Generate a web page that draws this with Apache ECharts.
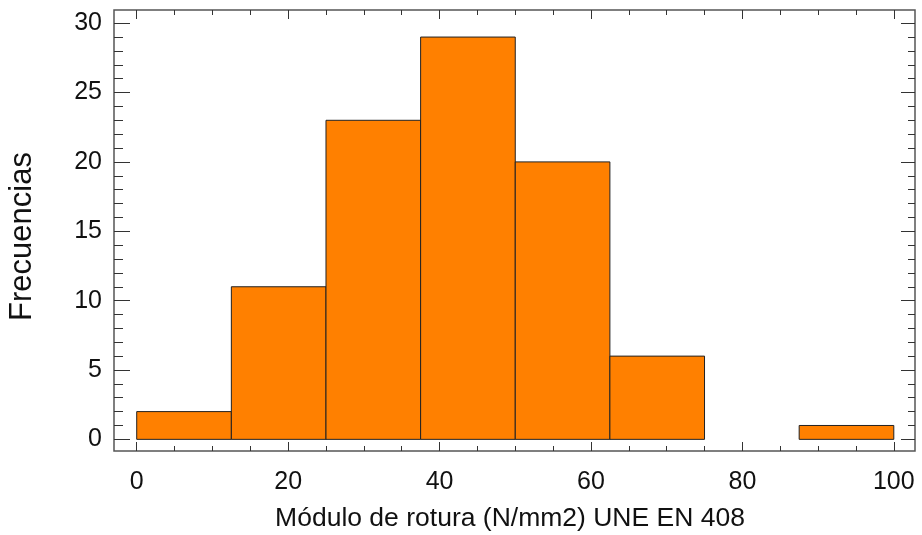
<!DOCTYPE html>
<html>
<head>
<meta charset="utf-8">
<script src="https://cdn.jsdelivr.net/npm/echarts@6/dist/echarts.min.js"></script>
<style>
  html, body { margin: 0; padding: 0; background: #fff; }
  #chart { width: 922px; height: 535px; }
</style>
</head>
<body>
<div id="chart"></div>
<script>
// histogram bins (N/mm2) and counts
const binStarts = [0, 12.5, 25, 37.5, 50, 62.5, 75, 87.5];
const binWidth = 12.5;
const counts = [2, 11, 23, 29, 20, 6, 0, 1];

const xMajor = [0, 20, 40, 60, 80, 100];
const xMinor = [5, 10, 15, 25, 30, 35, 45, 50, 55, 65, 70, 75, 85, 90, 95];
const yMajor = [0, 5, 10, 15, 20, 25, 30];
const yMinor = [1, 2, 3, 4, 6, 7, 8, 9, 11, 12, 13, 14, 16, 17, 18, 19, 21, 22, 23, 24, 26, 27, 28, 29];

const FONT = "Liberation Sans";
const TICK_COLOR = "#333";
const X_RANGE = { min: -3, max: 102.8 };
const Y_RANGE = { min: -0.84, max: 30.95 };

const chart = echarts.init(document.getElementById("chart"));

// one helper for every tick-only axis (major/minor, both sides)
const tickAxis = (pos, vals, len, labels, extra, margin) =>
  Object.assign({
    type: "value",
    position: pos,
    axisLine: { show: false, onZero: false },
    splitLine: { show: false },
    axisTick: {
      show: true,
      inside: true,
      length: len,
      customValues: vals,
      lineStyle: { color: TICK_COLOR, width: 1 },
    },
    axisLabel: labels
      ? { show: true, customValues: vals, fontSize: 25, color: "#111", fontFamily: FONT, margin: margin }
      : { show: false },
  }, extra);

const data = binStarts.map((s, i) => [s, s + binWidth, counts[i]]);

chart.setOption({
  animation: false,
  grid: {
    left: 114, right: 7, top: 10, bottom: 84,
    outerBoundsMode: "none", // keep the plot box fixed even though the names reach the edge
    show: true,
    borderColor: "#555",
    borderWidth: 1.5,
  },
  xAxis: [
    tickAxis("bottom", xMajor, 9, true, Object.assign({}, X_RANGE, {
      name: "Módulo de rotura (N/mm2) UNE EN 408",
      nameLocation: "middle",
      nameGap: 54,
      nameTextStyle: { fontSize: 26.5, color: "#111", fontFamily: FONT, padding: [0, 9, 0, 0] },
    }), 19),
    tickAxis("bottom", xMinor, 5, false, X_RANGE),
    tickAxis("top", xMajor, 9, false, X_RANGE),
    tickAxis("top", xMinor, 5, false, X_RANGE),
  ],
  yAxis: [
    tickAxis("left", yMajor, 16, true, Object.assign({}, Y_RANGE, {
      name: "Frecuencias",
      nameLocation: "middle",
      nameGap: 76,
      nameTextStyle: { fontSize: 31, color: "#111", fontFamily: FONT, padding: [0, 12, 0, 0] },
    }), 12),
    tickAxis("left", yMinor, 9, false, Y_RANGE),
    tickAxis("right", yMajor, 14, false, Y_RANGE),
    tickAxis("right", yMinor, 7, false, Y_RANGE),
  ],
  series: [
    {
      type: "custom",
      xAxisIndex: 0,
      yAxisIndex: 0,
      data: data,
      encode: { x: [0, 1], y: 2 },
      renderItem: (params, api) => {
        const v = api.value(2);
        if (!v) return null;
        const p0 = api.coord([api.value(0), 0]);
        const p1 = api.coord([api.value(1), v]);
        return {
          type: "rect",
          shape: { x: p0[0], y: p1[1], width: p1[0] - p0[0], height: p0[1] - p1[1] },
          style: { fill: "#FF8000", stroke: "#222", lineWidth: 1 },
        };
      },
    },
  ],
});
</script>
</body>
</html>
